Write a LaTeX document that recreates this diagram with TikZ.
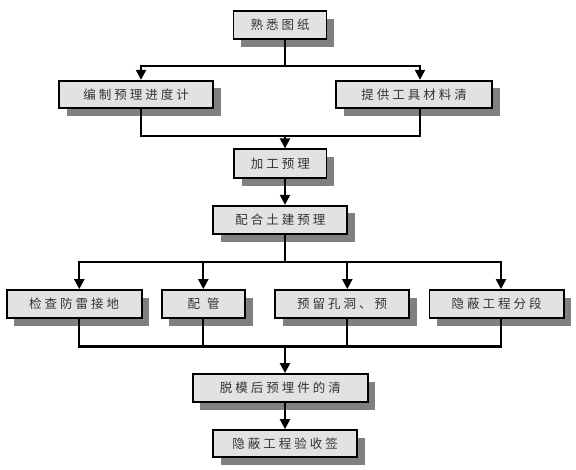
\documentclass[tikz,border=0pt]{standalone}
\usepackage{fontspec}
\newfontfamily\cjk[LetterSpace=24]{Noto Sans CJK SC}
\usetikzlibrary{arrows.meta,shadows}
\definecolor{marble}{HTML}{E2E2E2}
\definecolor{shadowgray}{HTML}{808080}
\definecolor{txt}{HTML}{333333}
\begin{document}
\begin{tikzpicture}[x=1pt,y=-1pt,
  box/.style={draw=black, line width=1.8pt, fill=marble, minimum height=28pt,
    inner sep=0pt, text=txt, font=\cjk\fontsize{12.5}{14}\selectfont,
    drop shadow={shadow xshift=7.5pt, shadow yshift=-7.5pt, fill=shadowgray, opacity=1}},
  conn/.style={line width=2.2pt},
  arr/.style={conn, -{Triangle[length=10pt,width=10pt]}}]
\useasboundingbox (0,0) rectangle (576,469);

\node[box, minimum width=93pt] (n1) at (280,25) {熟悉图纸};
\node[box, minimum width=154pt, minimum height=27.5pt] (n2) at (136,94.5) {编制预理进度计};
\node[box, minimum width=156pt, minimum height=27.5pt] (n3) at (414,94.5) {提供工具材料清};
\node[box, minimum width=92.5pt, minimum height=29pt] (n4) at (280.3,163.8) {加工预理};
\node[box, minimum width=134pt, minimum height=28.5pt] (n5) at (280.3,220) {配合土建预理};
\node[box, minimum width=135pt] (n6) at (74.2,304) {检查防雷接地};
\node[box, minimum width=83.5pt] (n7) at (203.5,304) {配\hspace{7pt}管};
\node[box, minimum width=134pt] (n8) at (342.2,304) {预留孔洞、预};
\node[box, minimum width=134.5pt] (n9) at (496.7,304) {隐蔽工程分段};
\node[box, minimum width=175pt] (n10) at (280.3,388) {脱模后预埋件的清};
\node[box, minimum width=144pt, minimum height=27pt] (n11) at (285,443.5) {隐蔽工程验收签};

\coordinate (s1) at (285,66.3);
\coordinate (s2) at (285,136);
\coordinate (s3) at (285,261.7);
\coordinate (s4) at (285,346.5);

\draw[conn] (n1.south -| s1) -- (s1);
\draw[arr] (s1) -| ([xshift=5pt]n2.north);
\draw[arr] (s1) -| ([xshift=6pt]n3.north);
\draw[conn] ([xshift=5pt]n2.south) |- (s2) -| ([xshift=6pt]n3.south);
\draw[arr] (s2) -- (s2 |- n4.north);
\draw[arr] (n4.south -| s2) -- (n5.north -| s2);
\draw[conn] (n5.south -| s3) -- (s3);
\draw[arr] (s3) -| ([xshift=5.1pt]n6.north);
\draw[arr] (s3) -| ([xshift=-0.2pt]n7.north);
\draw[arr] (s3) -| ([xshift=5.1pt]n8.north);
\draw[arr] (s3) -| ([xshift=4.3pt]n9.north);
\coordinate (b7) at ([xshift=-0.2pt]n7.south);
\coordinate (b8) at ([xshift=5.1pt]n8.south);
\draw[conn] ([xshift=5.1pt]n6.south) |- (s4) -| ([xshift=4.3pt]n9.south);
\draw[conn] (b7) -- (b7 |- s4);
\draw[conn] (b8) -- (b8 |- s4);
\draw[arr] (s4) -- (s4 |- n10.north);
\draw[arr] (n10.south -| n11.north) -- (n11.north);
\end{tikzpicture}
\end{document}
